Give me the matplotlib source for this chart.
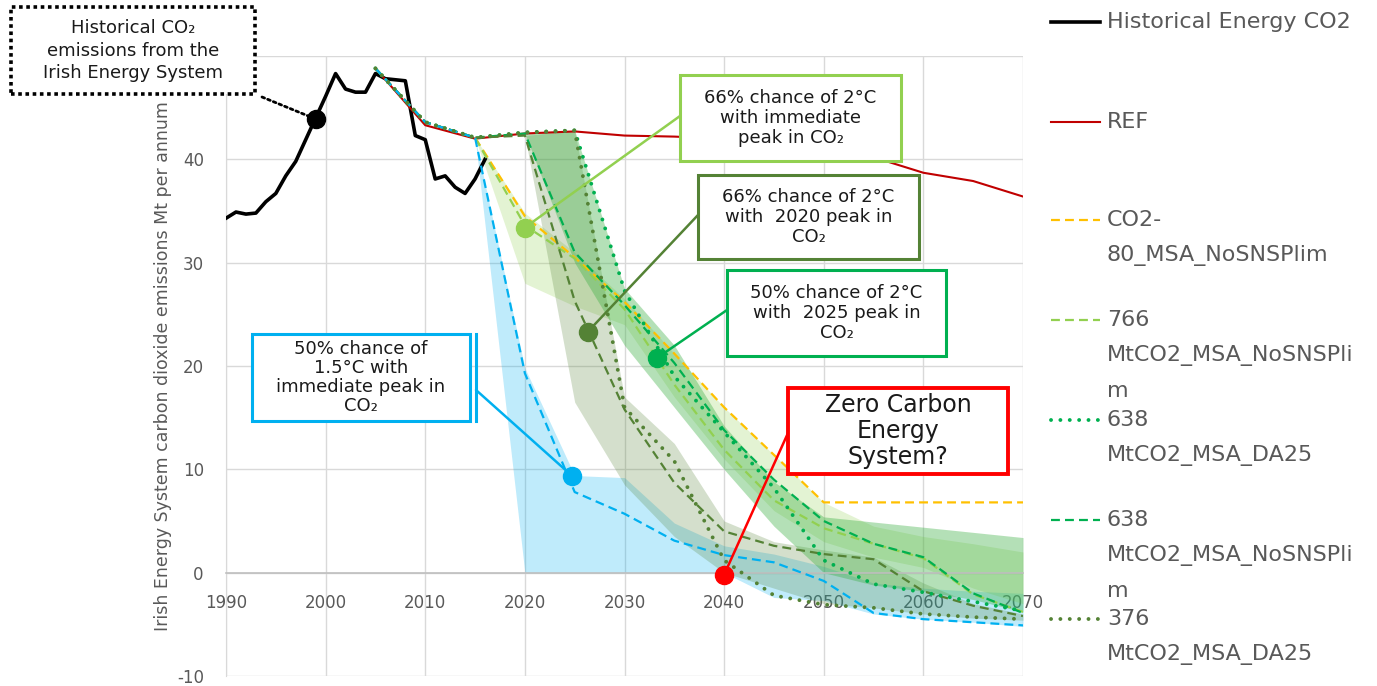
import matplotlib
matplotlib.use("Agg")
import matplotlib.pyplot as plt
from matplotlib.patches import Rectangle
from matplotlib.lines import Line2D

plt.rcParams['font.family'] = ['DejaVu Sans']
plt.rcParams['axes.unicode_minus'] = False

# ---------------- data ----------------
hist_years = list(range(1990, 2017))
hist_co2 = [34.3, 34.9, 34.7, 34.8, 35.9, 36.7, 38.4, 39.8, 41.9, 44.0,
            46.1, 48.3, 46.8, 46.5, 46.5, 48.3, 47.8, 47.7, 47.6, 42.3,
            41.9, 38.1, 38.4, 37.3, 36.7, 38.1, 40.0]

scen_years = [2005, 2010, 2015, 2020, 2025, 2030, 2035, 2040, 2045, 2050, 2055, 2060, 2065, 2070]
ref_co2 = [48.8, 43.3, 42.0, 42.5, 42.7, 42.3, 42.2, 42.0, 41.5, 40.8, 40.2, 38.7, 37.9, 36.4]
co2_80_nosnsp = [48.8, 43.6, 42.1, 34.5, 30.5, 26.2, 21.2, 16.0, 11.4, 6.8, 6.8, 6.8, 6.8, 6.8]
mt766_nosnsp = [48.8, 43.6, 42.1, 33.6, 30.4, 25.5, 18.2, 11.9, 7.0, 4.3, 2.8, 1.4, -2.1, -3.8]
mt638_da25 = [48.8, 43.6, 42.1, 42.6, 42.8, 27.3, 19.0, 13.6, 8.2, 1.2, -1.1, -1.9, -2.8, -3.7]
mt638_nosnsp = [48.8, 43.6, 42.1, 42.5, 31.0, 25.9, 20.3, 13.8, 9.0, 5.0, 2.8, 1.5, -2.0, -3.9]
mt376_da25 = [48.8, 43.6, 42.1, 42.6, 42.8, 16.0, 10.8, 1.2, -2.2, -3.1, -3.4, -4.0, -4.3, -4.5]
mt376_nosnsp = [48.8, 43.6, 42.1, 42.3, 26.3, 15.8, 8.7, 4.0, 2.6, 1.8, 1.3, -1.8, -3.2, -4.2]
c15_immediate = [48.8, 43.6, 42.1, 19.3, 7.8, 5.7, 3.1, 1.7, 1.0, -0.8, -3.9, -4.5, -4.8, -5.1]

# ranges (shaded bands)
band15_years = [2015, 2020, 2025, 2030, 2035, 2040, 2045, 2050, 2055, 2060, 2065, 2070]
band15_upper = [42.1, 19.8, 9.4, 9.2, 4.8, 2.6, 1.8, 0.6, -1.0, -1.5, -1.8, -2.0]
band15_lower = [42.1, 0.0, 0.0, 0.0, 0.0, 0.0, -2.4, -2.7, -4.0, -4.5, -4.8, -5.2]

band66i_years = [2015, 2020, 2025, 2030, 2035, 2040, 2045, 2050, 2055, 2060, 2065, 2070]
band66i_upper = [42.1, 34.8, 31.0, 26.5, 21.2, 16.0, 11.4, 6.8, 4.5, 3.5, 2.8, 2.0]
band66i_lower = [42.1, 28.0, 25.8, 24.0, 17.0, 11.0, 6.0, 3.0, 1.5, 0.5, -1.5, -3.0]

band66p_years = [2020, 2025, 2030, 2035, 2040, 2045, 2050, 2055, 2060, 2065, 2070]
band66p_upper = [42.3, 42.8, 17.0, 12.5, 5.0, 3.0, 2.2, 1.5, -1.0, -3.0, -4.0]
band66p_lower = [42.3, 16.5, 8.5, 3.5, 0.0, -1.5, -3.0, -3.4, -4.0, -4.4, -4.6]

band50p_years = [2020, 2025, 2030, 2035, 2040, 2045, 2050, 2055, 2060, 2065, 2070]
band50p_upper = [42.5, 42.8, 27.5, 22.0, 14.2, 8.8, 5.4, 4.9, 4.4, 3.9, 3.4]
band50p_lower = [42.5, 30.0, 22.0, 16.0, 10.0, 4.5, 0.0, -1.2, -1.8, -2.6, -3.8]

y_tick_values = [-10, 0, 10, 20, 30, 40, 50]
y_tick_labels = ['-10', '0', '10', '20', '30', '40', '']
x_tick_values = [1990, 2000, 2010, 2020, 2030, 2040, 2050, 2060, 2070]

callout_years = [1999, 2020, 2026.3, 2033.3, 2024.7, 2040]
callout_values = [43.9, 33.4, 23.3, 20.8, 9.4, -0.2]
callout_texts = [
    "Historical CO\u2082\nemissions from the\nIrish Energy System",
    "66% chance of 2\u00b0C\nwith immediate\npeak in CO\u2082",
    "66% chance of 2\u00b0C\nwith  2020 peak in\nCO\u2082",
    "50% chance of 2\u00b0C\nwith  2025 peak in\nCO\u2082",
    "50% chance of\n1.5\u00b0C with\nimmediate peak in\nCO\u2082",
    "Zero Carbon\nEnergy\nSystem?",
]

legend_lines = [
    ["Historical Energy CO2"],
    ["REF"],
    ["CO2-", "80_MSA_NoSNSPlim"],
    ["766", "MtCO2_MSA_NoSNSPli", "m"],
    ["638", "MtCO2_MSA_DA25"],
    ["638", "MtCO2_MSA_NoSNSPli", "m"],
    ["376", "MtCO2_MSA_DA25"],
]

# ---------------- styles ----------------
W, H = 1377, 686
DASH = (0, (4, 2.3))
DOT = (0, (0.01, 2.4))
st_hist = dict(color='black', lw=2.6, ls='-')
st_ref = dict(color='#C00000', lw=1.5, ls='-')
st_co2 = dict(color='#FFC000', lw=1.6, ls=DASH)
st_766 = dict(color='#92D050', lw=1.6, ls=DASH)
st_638d = dict(color='#00B050', lw=2.8, ls=DOT, dash_capstyle='round')
st_638n = dict(color='#00B050', lw=1.6, ls=DASH)
st_376d = dict(color='#548235', lw=2.8, ls=DOT, dash_capstyle='round')
st_376n = dict(color='#548235', lw=1.6, ls=DASH)
st_15 = dict(color='#00B0F0', lw=1.6, ls=DASH)

fig = plt.figure(figsize=(W / 100, H / 100), dpi=100)
ax = fig.add_axes([226 / W, 1 - 676 / H, (1023 - 226) / W, (676 - 56) / H])

# bands
ax.fill_between(band15_years, band15_lower, band15_upper, color='#00B0F0', alpha=0.25, lw=0, zorder=1.1)
ax.fill_between(band66i_years, band66i_lower, band66i_upper, color='#92D050', alpha=0.25, lw=0, zorder=1.2)
ax.fill_between(band66p_years, band66p_lower, band66p_upper, color='#548235', alpha=0.25, lw=0, zorder=1.3)
ax.fill_between(band50p_years, band50p_lower, band50p_upper, color='#3CB043', alpha=0.38, lw=0, zorder=1.4)

# lines
ax.plot(hist_years, hist_co2, zorder=3, **st_hist)
ax.plot(scen_years, ref_co2, zorder=3.1, **st_ref)
ax.plot(scen_years, co2_80_nosnsp, zorder=3.2, **st_co2)
ax.plot(scen_years, mt766_nosnsp, zorder=3.3, **st_766)
ax.plot(scen_years, mt638_nosnsp, zorder=3.4, **st_638n)
ax.plot(scen_years, mt376_nosnsp, zorder=3.5, **st_376n)
ax.plot(scen_years, c15_immediate, zorder=3.6, **st_15)
ax.plot(scen_years, mt638_da25, zorder=3.7, **st_638d)
ax.plot(scen_years, mt376_da25, zorder=3.8, **st_376d)

# axes styling
ax.set_xlim(1990, 2070)
ax.set_ylim(-10, 50)
ax.set_xticks(x_tick_values)
ax.set_yticks(y_tick_values)
ax.set_yticklabels(y_tick_labels)
ax.set_axisbelow(True)
ax.grid(True, color='#D9D9D9', lw=1.0)
for s in ('top', 'right'):
    ax.spines[s].set_visible(False)
ax.spines['left'].set_color('#D9D9D9')
ax.spines['bottom'].set_position(('data', 0))
ax.spines['bottom'].set_color('#BFBFBF')
ax.spines['bottom'].set_linewidth(1.2)
ax.tick_params(axis='both', length=0, labelsize=12, labelcolor='#595959')
ax.tick_params(axis='x', pad=15)
ax.tick_params(axis='y', pad=16)
ax.set_ylabel("Irish Energy System carbon dioxide emissions Mt per annum",
              fontsize=12.5, color='#595959')
ax.yaxis.set_label_coords(-0.068, 0.5)

# callouts
box_px = [(11, 7, 255, 94), (680, 75, 901, 161), (698, 175, 919, 259),
          (727, 270, 946, 356), (252, 334, 470, 421), (788, 388, 1008, 474)]
anchor_px = [(262, 97), (680, 116), (698, 215), (727, 310), (476, 390), (788, 433)]
colors = ['black', '#92D050', '#548235', '#00B050', '#00B0F0', '#FF0000']
fsizes = [13, 13, 13, 13, 13, 17]
spacing = [1.3, 1.12, 1.12, 1.12, 1.08, 1.08]
for i in range(len(callout_texts)):
    c = colors[i]
    x0, y0, x1, y1 = box_px[i]
    if i == 0:
        ls, blw, clw, cls = (0, (1, 1)), 2.6, 2.0, (0, (1, 1.2))
    else:
        ls, blw, clw, cls = '-', (2.8 if i == 5 else 2.2), 1.8, '-'
    ax.annotate('', xy=(callout_years[i], callout_values[i]), xycoords='data',
                xytext=(anchor_px[i][0] / W, 1 - anchor_px[i][1] / H),
                textcoords='figure fraction', annotation_clip=False,
                arrowprops=dict(arrowstyle='-', color=c, lw=clw, ls=cls,
                                shrinkA=0, shrinkB=0), zorder=7)
    ax.plot([callout_years[i]], [callout_values[i]], 'o', ms=13, color=c,
            zorder=8, clip_on=False)
    rect = Rectangle((x0 / W, 1 - y1 / H), (x1 - x0) / W, (y1 - y0) / H,
                     transform=fig.transFigure, facecolor='white', edgecolor=c,
                     lw=blw, ls=ls, zorder=10)
    fig.add_artist(rect)
    fig.text((x0 + x1) / 2 / W, 1 - (y0 + y1) / 2 / H, callout_texts[i],
             ha='center', va='center', fontsize=fsizes[i], color='#1a1a1a',
             linespacing=spacing[i], zorder=11)

# extra bar beside the 1.5C callout box
fig.add_artist(Line2D([476 / W, 476 / W], [1 - 334 / H, 1 - 421 / H],
                      transform=fig.transFigure, color='#00B0F0', lw=2.2, zorder=10))

# legend (drawn manually to mimic the wrapped entries)
leg_styles = [st_hist, st_ref, st_co2, st_766, st_638d, st_638n, st_376d]
entry_y = [22, 122, 220, 320, 420, 520, 619]
for st, y, lines in zip(leg_styles, entry_y, legend_lines):
    kw = dict(st)
    fig.add_artist(Line2D([1051 / W, 1100 / W], [1 - y / H, 1 - y / H],
                          transform=fig.transFigure, **kw))
    for k, t in enumerate(lines):
        fig.text(1107 / W, 1 - (y + k * 35.5) / H, t, fontsize=16,
                 color='#595959', ha='left', va='center')

fig.savefig('out.png', dpi=100)
